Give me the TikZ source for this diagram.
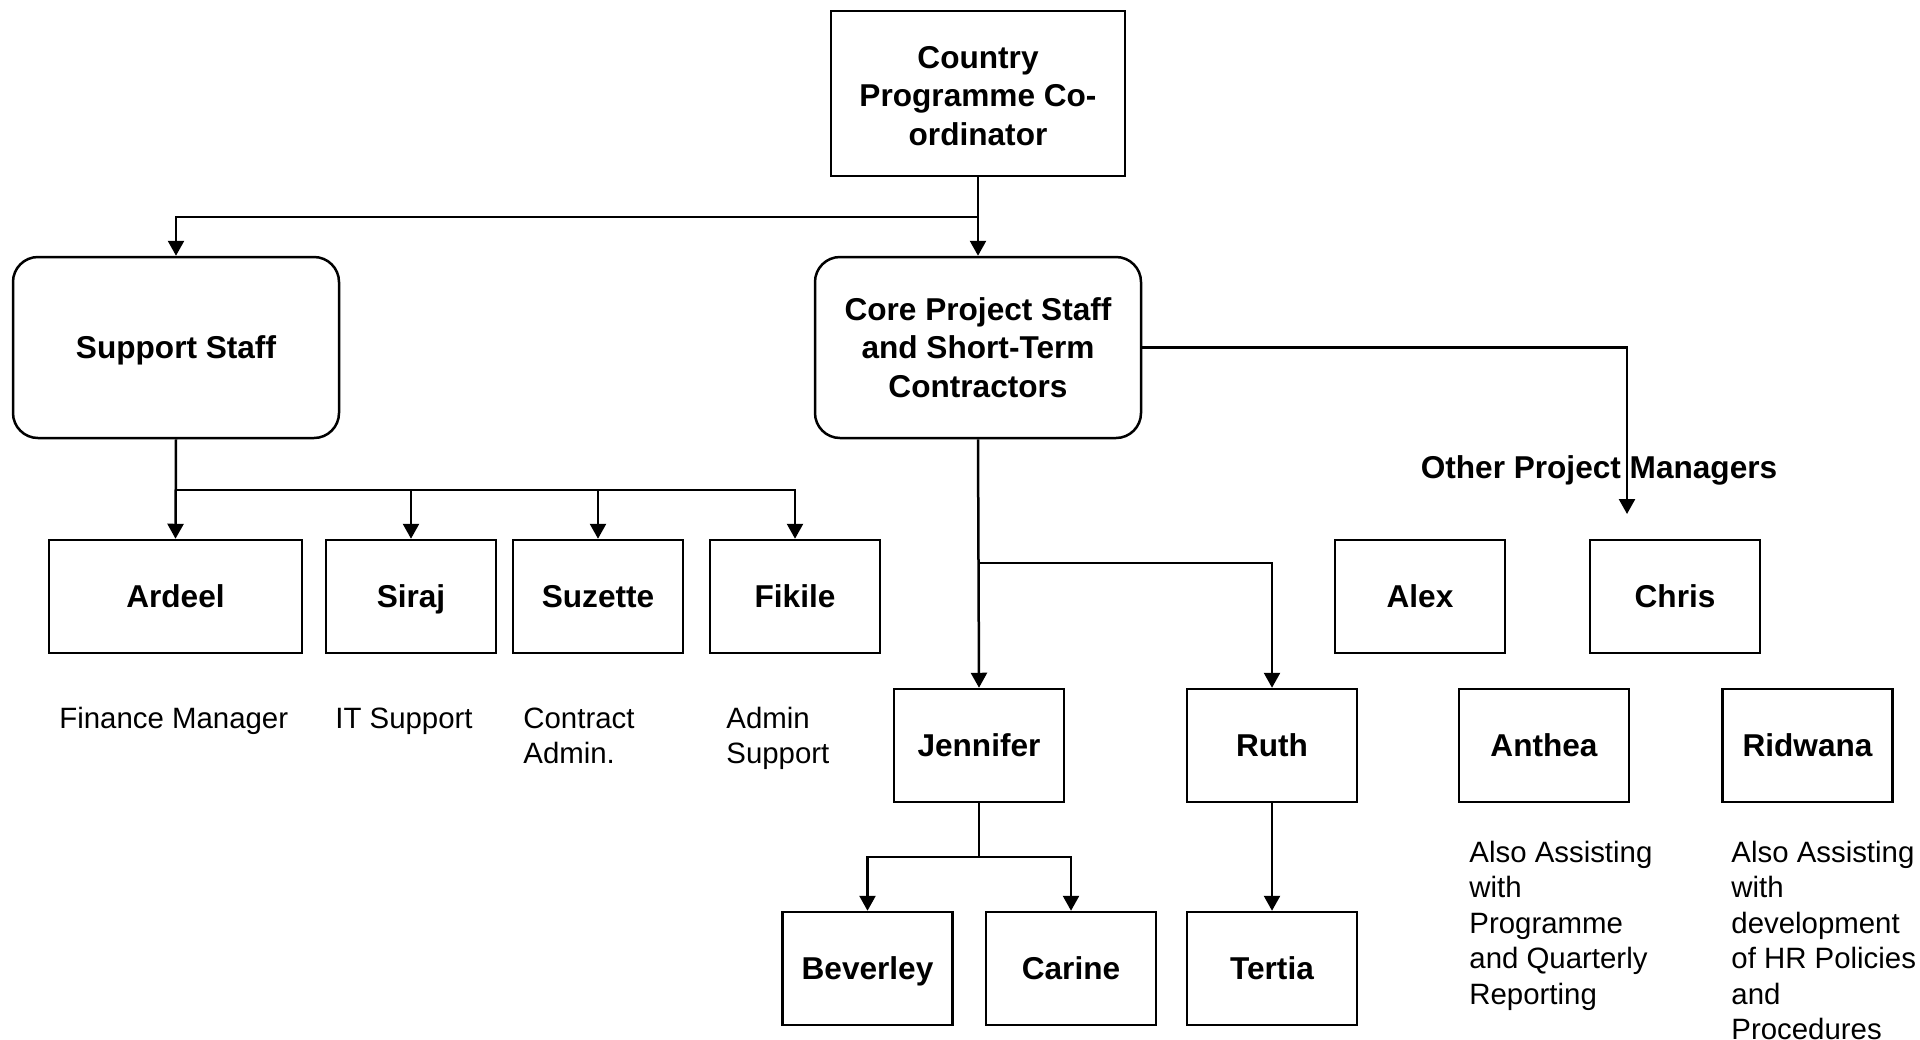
\documentclass[tikz,border=0pt]{standalone}
\usepackage{fontspec}
\setmainfont{Liberation Sans}
\usetikzlibrary{arrows.meta}
\begin{document}
\begin{tikzpicture}[x=0.5pt,y=-0.5pt,
 box/.style={draw,line width=1.25pt,font=\bfseries\fontsize{15.8}{19.3}\selectfont,align=center,inner sep=0pt},
 pbox/.style={box,minimum width=85pt,minimum height=56.5pt,text height=11.3pt,text depth=0pt},
 rbox/.style={box,rounded corners=12.5pt,minimum width=163pt,minimum height=90.5pt},
 lbl/.style={font=\fontsize{14.7}{17.75}\selectfont,align=left,anchor=base west,inner sep=0pt},
 hdr/.style={font=\bfseries\fontsize{15.8}{19.3}\selectfont,inner sep=0pt},
 conn/.style={line width=1.25pt},
 arr/.style={conn,-{Triangle[length=7.5pt,width=8pt]}}]
\useasboundingbox (0,0) rectangle (1920,1039);
% nodes
\node[box,minimum width=147pt,minimum height=82.5pt] (country) at (978,93.5) {\raisebox{-1.3pt}[\height][\depth]{\parbox{140pt}{\centering Country\\Programme Co-\\ordinator}}};
\node[rbox,text height=11.3pt,text depth=0pt] (support) at (176,347.5) {Support Staff};
\node[rbox] (core) at (978,347.5) {Core Project Staff\\and Short-Term\\Contractors};
\node[pbox,minimum width=126.5pt] (ardeel) at (175.5,596.5) {Ardeel};
\node[pbox] (siraj) at (411,596.5) {Siraj};
\node[pbox] (suzette) at (598,596.5) {Suzette};
\node[pbox] (fikile) at (795,596.5) {Fikile};
\node[pbox] (jennifer) at (979,745.5) {Jennifer};
\node[pbox] (ruth) at (1272,745.5) {Ruth};
\node[pbox] (alex) at (1420,596.5) {Alex};
\node[pbox] (chris) at (1675,596.5) {Chris};
\node[pbox] (anthea) at (1544,745.5) {Anthea};
\node[pbox] (ridwana) at (1807.5,745.5) {Ridwana};
\node[pbox] (beverley) at (867.5,968.5) {Beverley};
\node[pbox] (carine) at (1071,968.5) {Carine};
\node[pbox] (tertia) at (1272,968.5) {Tertia};
% labels (anchor is the baseline of the last line)
\node[hdr,text height=11.3pt,text depth=0pt] (opmtext) at (1599,467) {Other Project Managers};
\node[lbl] (l1) at (59,728) {Finance Manager};
\node[lbl] (l2) at (335,728) {IT Support};
\node[lbl] (l3) at (523,763.5) {Contract\\Admin.};
\node[lbl] (l4) at (726,763.5) {Admin\\Support};
\node[lbl] (l5) at (1469,1004) {Also Assisting\\with\\Programme\\and Quarterly\\Reporting};
\node[lbl] (l6) at (1731,1039.5) {Also Assisting\\with\\development\\of HR Policies\\and\\Procedures};
% junctions
\coordinate (j1) at (978,217);
\coordinate (j2) at (176,490);
\coordinate (j3) at (978,563);
\coordinate (j4) at (979,857);
\coordinate (opm) at (1627,514);
% connectors
\draw[arr] (country.south) -- (j1) -| (support.north);
\draw[arr] (country.south) -- (core.north);
\draw[arr] (support.south) -- (ardeel.north);
\draw[arr] (j2) -| (siraj.north);
\draw[arr] (j2) -| (suzette.north);
\draw[arr] (j2) -| (fikile.north);
\draw[arr] (core.south) -- (jennifer.north);
\draw[arr] (j3) -| (ruth.north);
\draw[arr] (core.east) -| (opm);
\draw[conn] (jennifer.south) -- (j4);
\draw[arr] (j4) -| (beverley.north);
\draw[arr] (j4) -| (carine.north);
\draw[arr] (ruth.south) -- (tertia.north);
\end{tikzpicture}
\end{document}
